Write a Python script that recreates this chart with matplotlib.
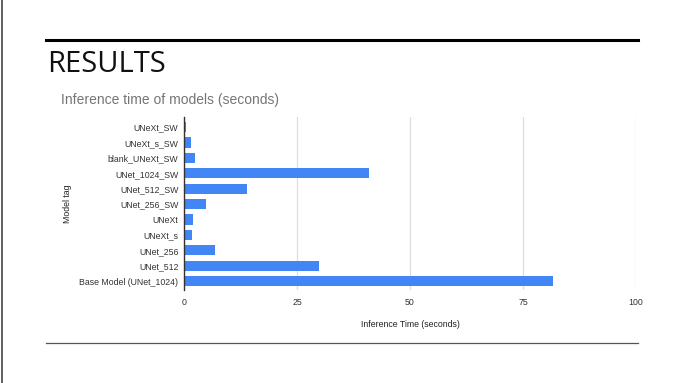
import matplotlib.pyplot as plt
from matplotlib.lines import Line2D

models = ["UNeXt_SW", "UNeXt_s_SW", "blank_UNeXt_SW", "UNet_1024_SW", "UNet_512_SW",
          "UNet_256_SW", "UNeXt", "UNeXt_s", "UNet_256", "UNet_512", "Base Model (UNet_1024)"]
times = [0.4, 1.5, 2.4, 40.9, 13.9, 4.9, 1.9, 1.8, 6.9, 29.8, 81.7]
xticks = [0, 25, 50, 75, 100]

fig = plt.figure(figsize=(6.8, 3.83), dpi=100)
W, H = 680, 383

# slide decorations
fig.add_artist(Line2D([46 / W, 638 / W], [1 - 40 / H, 1 - 40 / H], color="black", linewidth=2.2))
fig.add_artist(Line2D([46 / W, 638 / W], [1 - 343 / H, 1 - 343 / H], color="#555555", linewidth=0.9))
fig.add_artist(Line2D([1.5 / W, 1.5 / W], [0, 1], color="#444444", linewidth=1.2))
fig.text(47 / W, 1 - 64 / H, "RESULTS", fontsize=21, family="Open Sans",
         color="#111111", va="center", ha="left")
fig.text(61 / W, 1 - 100 / H, "Inference time of models (seconds)", fontsize=10,
         family="Liberation Sans", color="#757575", va="center", ha="left")

ax = fig.add_axes([184 / W, 1 - 290 / H, (636 - 184) / W, (290 - 117) / H])
y = list(range(len(models)))
ax.barh(y, times, height=0.66, color="#4285F4", zorder=3)
ax.set_ylim(len(models) - 0.42, -0.65)
ax.set_xlim(0, 100)
ax.set_xticks(xticks)
ax.set_yticks(y)
ax.set_yticklabels(models)
ax.grid(axis="x", color="#dddddd", linewidth=0.9, zorder=0)
for s in ["top", "right", "bottom"]:
    ax.spines[s].set_visible(False)
ax.spines["left"].set_color("#333333")
ax.spines["left"].set_linewidth(1.0)
ax.spines["left"].set_zorder(4)
ax.tick_params(axis="both", length=0, labelsize=6.3, labelcolor="#333333")
ax.tick_params(axis="x", pad=6)
ax.tick_params(axis="y", pad=4)
for lab in ax.get_xticklabels() + ax.get_yticklabels():
    lab.set_family("Liberation Sans")
ax.set_xlabel("Inference Time (seconds)", fontsize=6.3, family="Liberation Sans", color="#222222", labelpad=9)
ax.set_ylabel("Model tag", fontsize=6.3, family="Liberation Sans", color="#222222", labelpad=2)
ax.yaxis.set_label_coords(-(184 - 72) / (636 - 184), 0.5)

fig.savefig("out.png", dpi=100)
